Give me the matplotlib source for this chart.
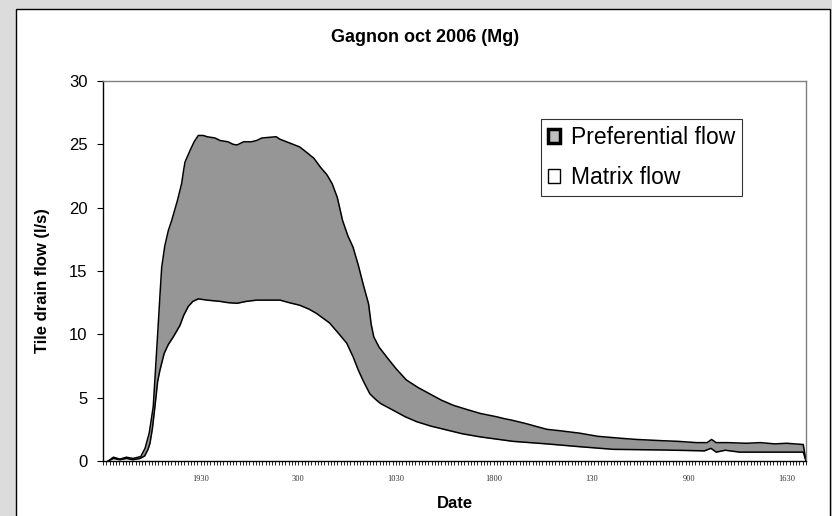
"""Tile drain flow separation, Gagnon site, October 2006 event."""

import matplotlib

matplotlib.use("Agg")
import matplotlib.pyplot as plt
from matplotlib.patches import Patch, Rectangle

# hours since 12:00 on the first day, and flow (l/s)
total_hours = [0.4, 0.8, 1.3, 1.8, 2.3, 2.7, 2.9, 3.23, 3.55, 3.86, 4.05, 4.25, 4.4,
               4.51, 4.75, 5.02, 5.28, 5.7, 6.04, 6.2, 6.3, 6.68, 7.0, 7.32, 7.7, 8.0,
               8.6, 9.0, 9.6, 10.0, 10.3, 10.8, 11.4, 11.8, 12.2, 13.3, 13.6, 14.1,
               15.1, 15.6, 16.2, 16.7, 17.2, 17.6, 18.0, 18.4, 18.8, 19.2, 19.6, 20.0,
               20.4, 20.6, 20.8, 21.2, 21.8, 22.5, 23.3, 24.2, 25.1, 26.0, 26.9, 28.0,
               29.0, 30.2, 30.8, 31.5, 32.5, 33.2, 34.1, 35.0, 36.6, 38.0, 39.7, 41.0,
               43.0, 44.2, 45.6, 46.4, 46.75, 47.1, 48.0, 49.4, 50.5, 51.6, 52.5,
               53.79, 54.0]
total_flow = [0.0, 0.3, 0.15, 0.3, 0.2, 0.3, 0.35, 1.0, 2.2, 4.3, 7.5, 10.9, 13.5,
              15.3, 17.0, 18.2, 19.0, 20.5, 21.9, 23.0, 23.6, 24.5, 25.2, 25.7, 25.7, 25.6,
              25.5, 25.3, 25.2, 25.0, 24.95, 25.2, 25.2, 25.3, 25.5, 25.6, 25.4, 25.2,
              24.8, 24.4, 23.9, 23.2, 22.6, 21.9, 20.8, 19.0, 17.8, 16.9, 15.5, 13.9,
              12.4, 10.8, 9.8, 9.0, 8.2, 7.3, 6.4, 5.8, 5.3, 4.8, 4.4, 4.05,
              3.75, 3.5, 3.35, 3.2, 2.95, 2.75, 2.5, 2.4, 2.2, 1.95, 1.8, 1.7,
              1.6, 1.55, 1.45, 1.45, 1.7, 1.45, 1.45, 1.4, 1.45, 1.35, 1.4,
              1.3, 0.0]

matrix_hours = [0.4, 0.8, 1.3, 1.8, 2.3, 2.84, 3.2, 3.45, 3.61, 3.8, 3.99, 4.2, 4.38,
                4.7, 5.02, 5.4, 5.91, 6.2, 6.55, 6.9, 7.32, 8.0, 9.0, 9.6, 10.3, 11.0,
                11.8, 13.0, 13.6, 14.3, 15.1, 15.8, 16.4, 17.0, 17.4, 18.07, 18.72,
                19.22, 19.6, 20.0, 20.5, 20.9, 21.3, 22.3, 23.2, 24.1, 25.2, 26.4, 27.6,
                29.0, 31.5, 34.1, 36.6, 39.2, 43.0, 46.2, 46.7, 47.1, 47.8, 48.9,
                53.79, 54.0]
matrix_flow = [0.0, 0.2, 0.1, 0.2, 0.1, 0.2, 0.4, 0.9, 1.4, 2.6, 4.3, 6.3, 7.2,
               8.5, 9.2, 9.8, 10.7, 11.5, 12.2, 12.6, 12.8, 12.7, 12.6, 12.5, 12.45, 12.6,
               12.7, 12.7, 12.7, 12.5, 12.3, 12.0, 11.65, 11.2, 10.9, 10.1, 9.3,
               8.2, 7.2, 6.3, 5.3, 4.9, 4.55, 4.0, 3.5, 3.1, 2.75, 2.45, 2.15,
               1.9, 1.55, 1.35, 1.13, 0.92, 0.87, 0.8, 1.0, 0.7, 0.85, 0.7,
               0.7, 0.0]

tick_hours = [7.5, 15, 22.5, 30, 37.5, 45, 52.5]
tick_labels = ["1930", "300", "1030", "1800", "130", "900", "1630"]

W, H = 832, 516
fig = plt.figure(figsize=(W / 100, H / 100), dpi=100, facecolor="#dcdcdc")

# white chart area with black frame (no visible bottom edge)
fig.patches.append(
    Rectangle((16 / W, -0.05), (830 - 16) / W, 1 - 9 / H + 0.05,
              transform=fig.transFigure, facecolor="white", edgecolor="black",
              linewidth=1.0, zorder=-10)
)

ax = fig.add_axes([103 / W, 1 - 461 / H, (806 - 103) / W, (461 - 81) / H])
ax.set_facecolor("white")

ax.fill_between(total_hours, total_flow, color="#969696", linewidth=0)
ax.fill_between(matrix_hours, matrix_flow, color="white", linewidth=0)
ax.plot(total_hours, total_flow, color="black", linewidth=1.1)
ax.plot(matrix_hours, matrix_flow, color="black", linewidth=1.1)

ax.set_xlim(0, 54)
ax.set_ylim(0, 30)
ax.set_yticks(range(0, 31, 5))
ax.tick_params(axis="y", direction="out", length=4, width=0.8, pad=7,
               labelsize=12, labelfontfamily="Liberation Sans")
ax.set_xticks(tick_hours)
ax.set_xticklabels(tick_labels, fontfamily="Liberation Serif", fontsize=6, color="#333333")
ax.set_xticks([i * 0.25 for i in range(0, 217)], minor=True)
ax.tick_params(axis="x", which="both", direction="out", length=3, width=0.6, pad=7)

for side in ("left", "bottom"):
    ax.spines[side].set_color("black")
    ax.spines[side].set_linewidth(1.0)
for side in ("top", "right"):
    ax.spines[side].set_color("#808080")
    ax.spines[side].set_linewidth(1.0)

fig.text(425 / W, 1 - 38 / H, "Gagnon oct 2006 (Mg)", ha="center", va="center",
         fontsize=13, fontweight="bold", family="Liberation Sans")
fig.text(43 / W, 1 - 281 / H, "Tile drain flow (l/s)", ha="center", va="center",
         rotation=90, fontsize=12, fontweight="bold", family="Liberation Sans")
fig.text(455 / W, 1 - 503 / H, "Date", ha="center", va="center",
         fontsize=12, fontweight="bold", family="Liberation Sans")

handles = [
    Patch(facecolor="#c0c0c0", edgecolor="black", linewidth=2.5),
    Patch(facecolor="white", edgecolor="black", linewidth=1.0),
]
leg = fig.legend(handles, ["Preferential flow", "Matrix flow"],
                 loc="upper left", bbox_to_anchor=(541 / W, 1 - 119 / H),
                 prop={"family": "Liberation Sans", "size": 16.5},
                 frameon=True, fancybox=False, shadow=False, borderaxespad=0,
                 handlelength=0.55, handleheight=0.55, handletextpad=0.45,
                 borderpad=0.3, labelspacing=0.75)
leg.get_frame().set_edgecolor("black")
leg.get_frame().set_linewidth(0.8)

fig.savefig("out.png", dpi=100, facecolor=fig.get_facecolor())
